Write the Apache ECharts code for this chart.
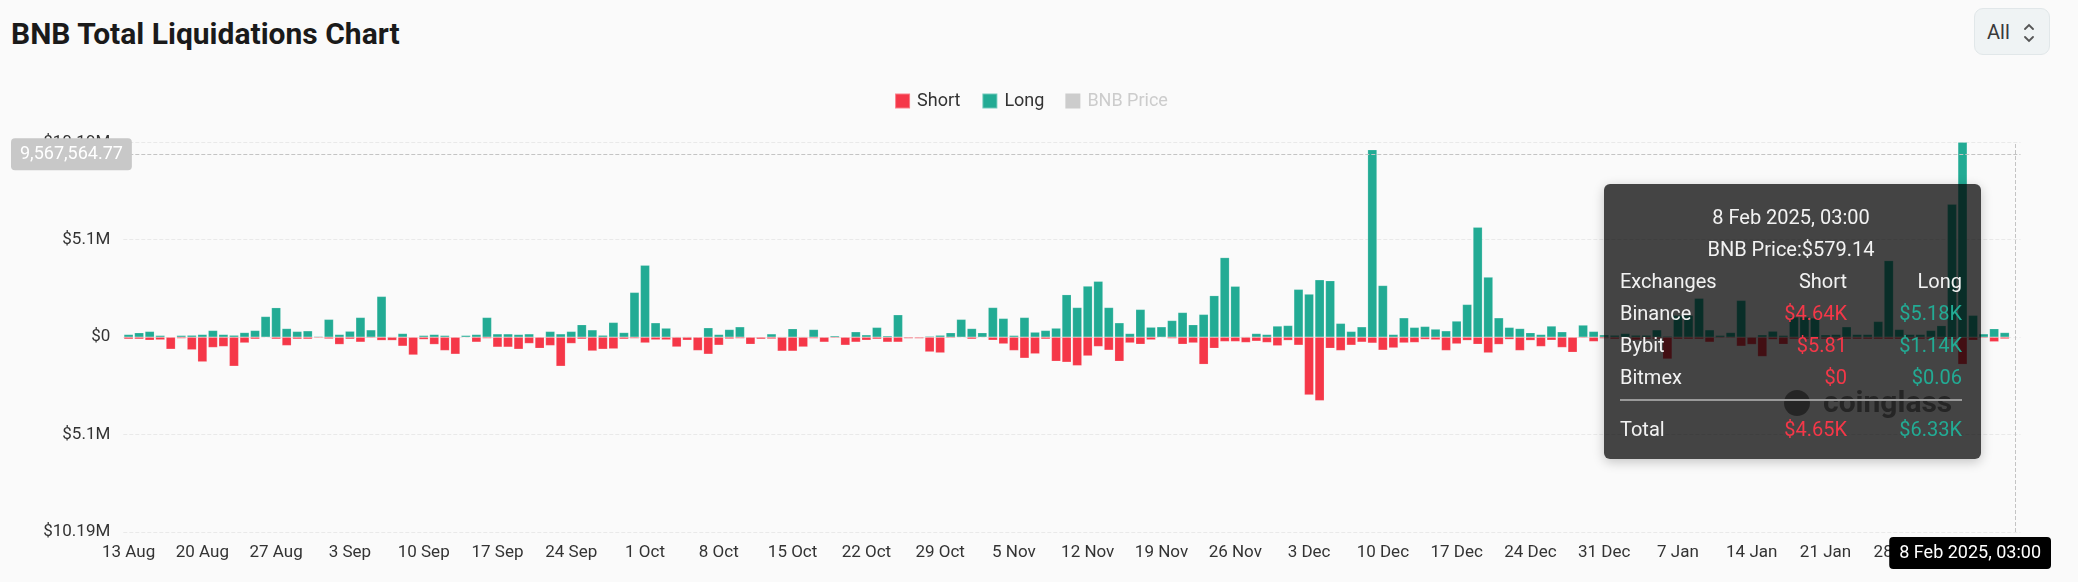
<!DOCTYPE html>
<html>
<head>
<meta charset="utf-8">
<title>BNB Total Liquidations Chart</title>
<script src="https://cdn.jsdelivr.net/npm/echarts@6/dist/echarts.min.js"></script>
<style>
  html, body { margin: 0; padding: 0; width: 2078px; height: 582px; overflow: hidden; background: #fafafa; font-family: Roboto, sans-serif; }
  #title { position: absolute; left: 11px; top: 19px; font-size: 30px; font-weight: 700; line-height: 1; color: #1a1a1a; }
  #range { position: absolute; left: 1974px; top: 8px; width: 76px; height: 47px; box-sizing: border-box;
           border: 1px solid #e1e7e9; border-radius: 9px; background: #eff3f4; color: #3a3a3a; font-size: 20px; }
  #range span { position: absolute; left: 12px; top: 11px; }
  #range svg { position: absolute; left: 48px; top: 14px; }
  #chart { position: absolute; left: 11px; top: 0; width: 2040px; height: 582px; }
</style>
</head>
<body>
<div id="title">BNB Total Liquidations Chart</div>
<div id="range"><span>All</span>
  <svg width="12" height="20" viewBox="0 0 12 20"><path d="M2 6 L6 2 L10 6 M2 14 L6 18 L10 14" fill="none" stroke="#555" stroke-width="1.8" stroke-linecap="round"/></svg>
</div>
<div id="chart"></div>
<script>
// daily buckets, 13 Aug 2024 .. 8 Feb 2025
const startDay = Date.UTC(2024, 7, 13);
const dayCount = 180;
const monthNames = ['Jan','Feb','Mar','Apr','May','Jun','Jul','Aug','Sep','Oct','Nov','Dec'];
const categories = [];
for (let i = 0; i < dayCount; i++) {
  categories.push(new Date(startDay + i * 86400000).toISOString().slice(0, 10));
}

// long liquidations, USD
const longValues = [
  140000, 230000, 300000, 90000, 20000, 90000, 100000, 140000, 350000, 140000,
  100000, 240000, 350000, 1080000, 1540000, 450000, 300000, 330000, 40000, 930000,
  140000, 310000, 1030000, 380000, 2130000, 30000, 190000, 10000, 90000, 140000,
  90000, 20000, 90000, 140000, 1030000, 170000, 170000, 140000, 170000, 20000,
  300000, 170000, 300000, 650000, 380000, 100000, 770000, 240000, 2340000, 3760000,
  750000, 470000, 30000, 30000, 20000, 490000, 140000, 400000, 540000, 20000,
  20000, 170000, 30000, 440000, 30000, 400000, 10000, 70000, 20000, 280000,
  120000, 510000, 70000, 1170000, 20000, 10000, 50000, 100000, 230000, 930000,
  450000, 230000, 1550000, 980000, 90000, 1030000, 260000, 350000, 470000, 2220000,
  1550000, 2670000, 2920000, 1550000, 750000, 190000, 1450000, 520000, 540000, 870000,
  1290000, 650000, 1190000, 2170000, 4160000, 2660000, 30000, 190000, 140000, 580000,
  610000, 2500000, 2250000, 3000000, 2950000, 720000, 300000, 540000, 9800000, 2700000,
  140000, 1010000, 510000, 560000, 420000, 330000, 840000, 1710000, 5750000, 3140000,
  1010000, 510000, 450000, 230000, 140000, 580000, 280000, 20000, 630000, 300000,
  120000, 100000, 190000, 100000, 100000, 380000, 50000, 1140000, 1140000, 2030000,
  380000, 90000, 240000, 1920000, 20000, 120000, 310000, 90000, 1050000, 1050000,
  1000000, 120000, 140000, 540000, 140000, 140000, 820000, 4000000, 400000, 140000,
  140000, 350000, 600000, 6950000, 10190000, 1140000, 170000, 440000, 240000, 6330
];

// short liquidations, USD (drawn below zero)
const shortValues = [
  -100000, -100000, -160000, -140000, -630000, -70000, -660000, -1290000, -540000, -490000,
  -1520000, -300000, -100000, -30000, -100000, -440000, -100000, -100000, -50000, -90000,
  -380000, -100000, -260000, -50000, -170000, -170000, -470000, -930000, -120000, -380000,
  -700000, -890000, -30000, -260000, -70000, -520000, -520000, -630000, -330000, -580000,
  -440000, -1520000, -330000, -100000, -720000, -630000, -610000, -100000, -70000, -300000,
  -140000, -140000, -510000, -160000, -700000, -890000, -420000, -90000, -70000, -370000,
  -100000, -90000, -730000, -730000, -510000, -70000, -260000, -50000, -420000, -260000,
  -160000, -100000, -260000, -260000, -70000, -70000, -770000, -820000, -50000, -30000,
  -100000, -30000, -160000, -350000, -700000, -1100000, -870000, -100000, -1260000, -1310000,
  -1490000, -980000, -490000, -680000, -1260000, -300000, -370000, -140000, -30000, -70000,
  -370000, -300000, -1420000, -580000, -230000, -230000, -280000, -210000, -280000, -450000,
  -170000, -420000, -3020000, -3320000, -580000, -700000, -420000, -260000, -310000, -680000,
  -560000, -300000, -280000, -120000, -140000, -700000, -350000, -170000, -370000, -820000,
  -380000, -120000, -700000, -170000, -490000, -160000, -540000, -790000, -50000, -230000,
  -70000, -100000, -100000, -150000, -100000, -100000, -1140000, -100000, -100000, -100000,
  -260000, -50000, -50000, -470000, -380000, -1010000, -120000, -370000, -100000, -100000,
  -100000, -100000, -100000, -100000, -100000, -100000, -100000, -100000, -100000, -100000,
  -100000, -100000, -100000, -100000, -1420000, -160000, -50000, -240000, -90000, -4650
];

const yTickLabels = ['$10.19M', '$5.1M', '$0', '$5.1M', '$10.19M']; // bottom -> top
const yMax = 10190000;

// hovered point shown in the tooltip
const hoverHour = '03:00';
const hoverPrice = 579.14;
const pointerValue = 9567564.77;
const exchanges = ['Binance', 'Bybit', 'Bitmex'];
const exchangeShort = [4640, 5.81, 0];
const exchangeLong = [5180, 1140, 0.06];
const totalShort = 4650;
const totalLong = 6330;

const upColor = '#22AB94';
const downColor = '#F53748';

function fmtUsd(v) {
  if (v >= 1000) return '$' + (v / 1000).toFixed(2) + 'K';
  return '$' + v;
}
function fmtDay(d) {
  const dt = new Date(d + 'T00:00:00Z');
  return dt.getUTCDate() + ' ' + monthNames[dt.getUTCMonth()];
}
function fmtFull(d) {
  const dt = new Date(d + 'T00:00:00Z');
  return fmtDay(d) + ' ' + dt.getUTCFullYear() + ', ' + hoverHour;
}

function tooltipHtml(params) {
  const cell = 'padding:0;line-height:32px;';
  let rows = '';
  exchanges.forEach((name, i) => {
    rows += '<tr><td style="' + cell + '">' + name + '</td>' +
      '<td style="' + cell + 'text-align:right;color:' + downColor + '">' + fmtUsd(exchangeShort[i]) + '</td>' +
      '<td style="' + cell + 'text-align:right;color:' + upColor + '">' + fmtUsd(exchangeLong[i]) + '</td></tr>';
  });
  return '<div style="width:342px;padding:17px 19px 14px 16px;font-family:Roboto,sans-serif;font-size:20px;color:#f2f2f2;">' +
    '<div style="text-align:center;line-height:32px;">' + fmtFull(params[0].axisValue) + '</div>' +
    '<div style="text-align:center;line-height:32px;">BNB Price:$' + hoverPrice + '</div>' +
    '<table style="width:342px;border-collapse:collapse;table-layout:fixed;">' +
    '<col style="width:140px"><col style="width:87px"><col style="width:115px">' +
    '<tr><td style="' + cell + '">Exchanges</td><td style="' + cell + 'text-align:right">Short</td><td style="' + cell + 'text-align:right">Long</td></tr>' +
    rows + '</table>' +
    '<div style="height:2px;background:#9a9a9a;margin:6px 0 12px 0;"></div>' +
    '<table style="width:342px;border-collapse:collapse;table-layout:fixed;">' +
    '<col style="width:140px"><col style="width:87px"><col style="width:115px">' +
    '<tr><td style="' + cell + '">Total</td>' +
    '<td style="' + cell + 'text-align:right;color:' + downColor + '">' + fmtUsd(totalShort) + '</td>' +
    '<td style="' + cell + 'text-align:right;color:' + upColor + '">' + fmtUsd(totalLong) + '</td></tr></table>' +
    '</div>';
}

const chart = echarts.init(document.getElementById('chart'));

const option = {
  animation: false,
  backgroundColor: 'transparent',
  textStyle: { fontFamily: 'Roboto, sans-serif' },
  legend: {
    top: 87,
    left: 'center',
    icon: 'rect',
    itemWidth: 15,
    itemHeight: 15,
    itemGap: 21,
    textStyle: { fontSize: 18, color: '#333', padding: [0, 0, 0, 2] },
    inactiveColor: '#cccccc',
    data: ['Short', 'Long', 'BNB Price'],
    selected: { 'BNB Price': false }
  },
  grid: { left: 112.3, right: 30.5, top: 142.3, bottom: 50, containLabel: false },
  tooltip: {
    trigger: 'axis',
    transitionDuration: 0,
    backgroundColor: 'rgba(0,0,0,0.73)',
    borderWidth: 0,
    padding: 0,
    extraCssText: 'border-radius:6px;box-shadow:0 3px 12px rgba(0,0,0,0.22);',
    position: function () { return [1593, 184]; },
    axisPointer: {
      type: 'cross',
      crossStyle: { color: '#c4c4c4', type: 'dashed', width: 1 },
      lineStyle: { color: '#c4c4c4', type: 'dashed', width: 1 }
    },
    formatter: tooltipHtml
  },
  graphic: [
    { type: 'circle', left: 1773, top: 390, shape: { r: 13 }, style: { fill: '#8a8a8a' }, z: 0, silent: true },
    { type: 'text', left: 1812, top: 389, style: { text: 'coinglass', fill: '#8a8a8a', font: 'bold 30px Roboto, sans-serif' }, z: 0, silent: true }
  ],
  xAxis: {
    type: 'category',
    data: categories,
    boundaryGap: true,
    axisLine: { show: false },
    axisTick: { show: false },
    axisLabel: { interval: 6, margin: 12, fontSize: 17, color: '#333', formatter: v => fmtDay(v) },
    axisPointer: {
      label: {
        backgroundColor: '#000',
        color: '#fff',
        fontSize: 18,
        padding: [7, 10],
        borderRadius: 4,
        margin: 5,
        formatter: p => fmtFull(p.value)
      }
    }
  },
  yAxis: {
    type: 'value',
    min: -yMax,
    max: yMax,
    interval: yMax / 2,
    axisLine: { show: false },
    axisTick: { show: false },
    splitLine: { lineStyle: { color: '#e9e9e9', type: 'dashed' } },
    axisLabel: { margin: 13, fontSize: 17, color: '#333', formatter: (v, i) => yTickLabels[i] },
    axisPointer: {
      label: {
        backgroundColor: '#c8c8c8',
        color: '#fff',
        fontSize: 18,
        padding: [7, 9],
        borderRadius: 4,
        formatter: p => Number(p.value).toLocaleString('en-US', { minimumFractionDigits: 2, maximumFractionDigits: 2 })
      }
    }
  },
  series: [
    {
      name: 'Short', type: 'bar', stack: 'liq', data: shortValues, barWidth: '88%',
      itemStyle: { color: downColor, borderColor: 'rgba(255,255,255,0.35)', borderWidth: 0.5 }
    },
    {
      name: 'Long', type: 'bar', stack: 'liq', data: longValues, barWidth: '88%',
      itemStyle: { color: upColor, borderColor: 'rgba(255,255,255,0.35)', borderWidth: 0.5 }
    },
    { name: 'BNB Price', type: 'line', data: [], itemStyle: { color: '#cccccc' } }
  ]
};

chart.setOption(option);

const pos = chart.convertToPixel({ gridIndex: 0 }, [categories.length - 1, pointerValue]);
chart.dispatchAction({ type: 'showTip', x: pos[0], y: pos[1] });
</script>
</body>
</html>
